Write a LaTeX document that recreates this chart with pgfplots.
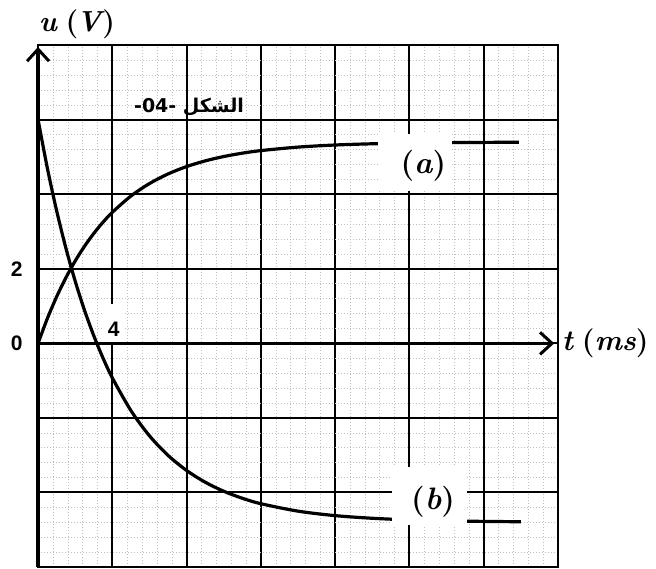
\documentclass[border=0pt]{standalone}
\usepackage{pgfplots}
\pgfplotsset{compat=1.18}
\usepackage{fontspec}
\setsansfont{Liberation Sans}
\newfontfamily\arabicfont[Script=Arabic]{DejaVu Sans}
\TeXXeTstate=1
\usetikzlibrary{arrows.meta}
\newcommand{\bi}[1]{{\bfseries\itshape #1}}

\begin{document}
\begin{tikzpicture}
\begin{axis}[
    scale only axis,
    width=520pt, height=522pt,
    xmin=0, xmax=28, ymin=-6, ymax=8,
    xtick={0,4,...,28}, ytick={-6,-4,...,8},
    xticklabels={},
    yticklabels={,,,0,2,,,},
    minor x tick num=4, minor y tick num=4,
    grid=both,
    major grid style={black, line width=2pt},
    minor grid style={black!25, line width=0.45pt, dash pattern=on 1pt off 2pt},
    tick style={draw=none},
    axis line style={black, line width=2pt},
    yticklabel style={font=\sffamily\bfseries\fontsize{21}{21}\selectfont, xshift=-12pt},
    clip=false,
]
% curve (a)
\addplot[black, line width=3.2pt, smooth] coordinates {
    (0,0) (0.5,0.666) (1,1.249) (1.5,1.761) (2,2.210) (2.5,2.603) (3,2.948)
    (3.5,3.250) (4,3.515) (5,3.951) (6,4.286) (7,4.544) (8,4.742) (9,4.894)
    (10,5.011) (11,5.101) (12,5.170) (14,5.264) (16,5.320) (18,5.353)
    (20,5.372) (22,5.383) (24,5.390) (25.9,5.394)
};
% curve (b)
\addplot[black, line width=3.2pt, smooth] coordinates {
    (0,6) (0.5,4.701) (1,3.557) (1.5,2.552) (2,1.667) (2.5,0.889) (3,0.205)
    (3.5,-0.397) (4,-0.927) (5,-1.803) (6,-2.481) (7,-3.006) (8,-3.411)
    (9,-3.725) (10,-3.968) (11,-4.156) (12,-4.302) (14,-4.502) (16,-4.622)
    (18,-4.693) (20,-4.736) (22,-4.762) (24,-4.777) (26,-4.786)
};

% axes with arrows
\draw[line width=3.2pt, -{Straight Barb[length=12pt,width=22pt,line width=3pt]}]
    (axis cs:0,-6) -- (axis cs:0,7.95);
\draw[line width=3.2pt, -{Straight Barb[length=12pt,width=22pt,line width=3pt]}]
    (axis cs:0,0) -- (axis cs:27.8,0);

% label boxes
\node[fill=white, inner sep=0pt, minimum width=75pt, minimum height=57pt] at (axis cs:20.3,4.85) {};
\node at (axis cs:20.75,4.76) {\fontsize{31}{31}\selectfont\bfseries(\bi{a})};
\node[fill=white, inner sep=0pt, minimum width=75pt, minimum height=58pt] at (axis cs:21.08,-4.10) {};
\node at (axis cs:21.27,-4.24) {\fontsize{31}{31}\selectfont\bfseries(\bi{b})};
\node[fill=white, inner sep=0pt, minimum width=22pt, minimum height=38pt] at (axis cs:4.07,0.55) {};
\node at (axis cs:4.07,0.38) {\sffamily\bfseries\fontsize{21}{21}\selectfont 4};

% titles
\node at (axis cs:2.1,8.56) {\fontsize{29}{29}\selectfont\bi{u} \bfseries(\kern-2pt\bi{V\kern1pt})};
\node[anchor=west, inner sep=0pt] at (axis cs:28.2,0) {\fontsize{29}{29}\selectfont\bi{t} \bfseries(\bi{ms})};
\node at (axis cs:8.13,6.33) {\arabicfont\bfseries\fontsize{19}{19}\selectfont\beginR الشكل \beginL-04-\endL\endR};

\coordinate (bbl) at (axis cs:-2.05,-6.03);
\coordinate (btr) at (axis cs:33.28,9.21);
\end{axis}
\pgfresetboundingbox
\path (bbl) rectangle (btr);
\end{tikzpicture}
\end{document}
